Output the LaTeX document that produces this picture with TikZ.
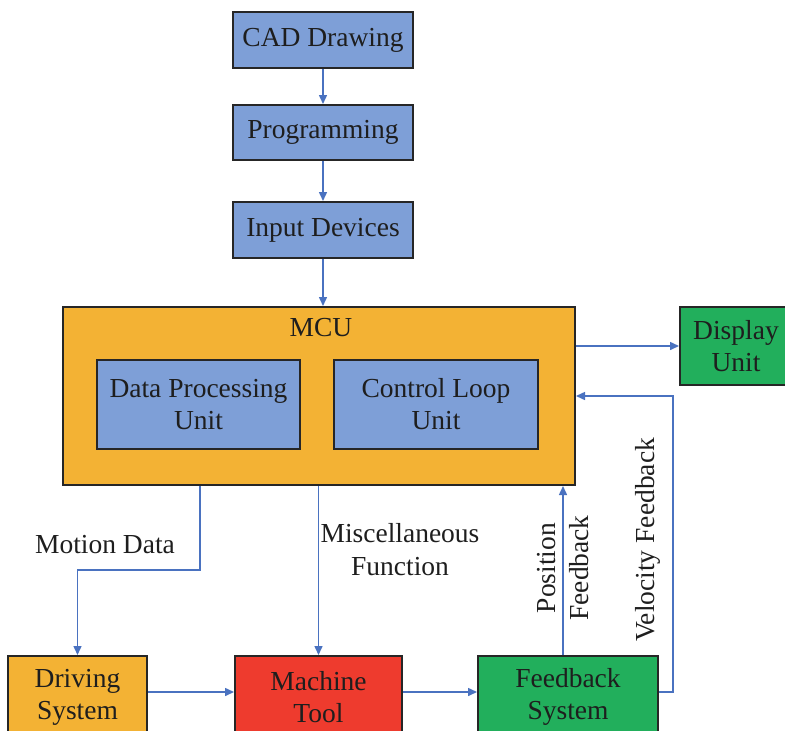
\documentclass[tikz,border=0pt]{standalone}
\usepackage{fontspec}
\setmainfont{Liberation Serif}
\usetikzlibrary{arrows.meta}
\definecolor{unitblue}{HTML}{7E9FD7}
\definecolor{unitorange}{HTML}{F3B234}
\definecolor{unitred}{HTML}{EE3B2E}
\definecolor{unitgreen}{HTML}{22AF5C}
\definecolor{linkblue}{HTML}{4A72C0}
\definecolor{inktext}{HTML}{1E1E1E}
\tikzset{
  block/.style={draw=black!85, line width=2pt, align=center, inner sep=0pt,
    text=inktext, font=\fontsize{27.5}{32}\selectfont},
  lbl/.style={align=center, inner sep=0pt, text=inktext,
    font=\fontsize{27.5}{33}\selectfont},
  link/.style={draw=linkblue, line width=1.5pt,
    -{Triangle[length=9pt,width=8pt]}}
}
\begin{document}
\begin{tikzpicture}[x=1pt,y=-1pt]
\useasboundingbox (0,0) rectangle (785,731);

% input chain
\node[block, fill=unitblue, minimum width=180pt, minimum height=56pt] (cad) at (323,40) {CAD Drawing};
\node[block, fill=unitblue, minimum width=180pt, minimum height=55pt] (prog) at (323,132.5) {Programming};
\node[block, fill=unitblue, minimum width=180pt, minimum height=56pt] (inp) at (323,230) {Input Devices};

% machine control unit
\node[block, fill=unitorange, minimum width=512pt, minimum height=178pt] (mcu) at (319,396) {};
\node[lbl] (mculbl) at (321,328) {MCU};
\node[block, fill=unitblue, minimum width=203pt, minimum height=89pt] (dpu) at (198.5,404.5) {Data Processing\\Unit};
\node[block, fill=unitblue, minimum width=204pt, minimum height=89pt] (clu) at (436,404.5) {Control Loop\\Unit};

% display
\node[block, fill=unitgreen, minimum width=112pt, minimum height=78pt] (disp) at (736,346) {Display\\Unit};

% lower row
\node[block, fill=unitorange, minimum width=139pt, minimum height=82pt] (drv) at (77.5,697) {Driving\\System};
\node[block, fill=unitred, minimum width=167pt, minimum height=82pt] (mach) at (318.5,697) {Machine\\Tool};
\node[block, fill=unitgreen, minimum width=180pt, minimum height=82pt] (fb) at (568,697) {Feedback\\System};

% connectors
\draw[link] (cad) -- (prog);
\draw[link] (prog) -- (inp);
\draw[link] (inp.south) -- (inp.south |- mcu.north);
\draw[link] (mcu.east |- disp.west) -- (disp.west);

\coordinate (mdturn) at (200,570);
\draw[link] (mdturn |- mcu.south) -- (mdturn) -| (drv.north);
\draw[link] (mcu.south -| mach.north) -- (mach.north);

\draw[link] ([yshift=5pt]drv.east) -- ([yshift=5pt]mach.west);
\draw[link] ([yshift=5pt]mach.east) -- ([yshift=5pt]fb.west);

\draw[link] ([xshift=-5pt]fb.north) -- ([xshift=-5pt]fb.north |- mcu.south);
\coordinate (vfturn) at (673,396);
\draw[link] ([yshift=5pt]fb.east) -| (vfturn) -- (vfturn -| mcu.east);

% connector labels
\node[lbl] (mdlbl) at (105,545) {Motion Data};
\node[lbl] (mflbl) at (400,550) {Miscellaneous\\Function};
\node[lbl, rotate=90] (pflbl) at (563,568) {Position\\Feedback};
\node[lbl, rotate=90] (vflbl) at (648,540) {Velocity Feedback};
\end{tikzpicture}
\end{document}
